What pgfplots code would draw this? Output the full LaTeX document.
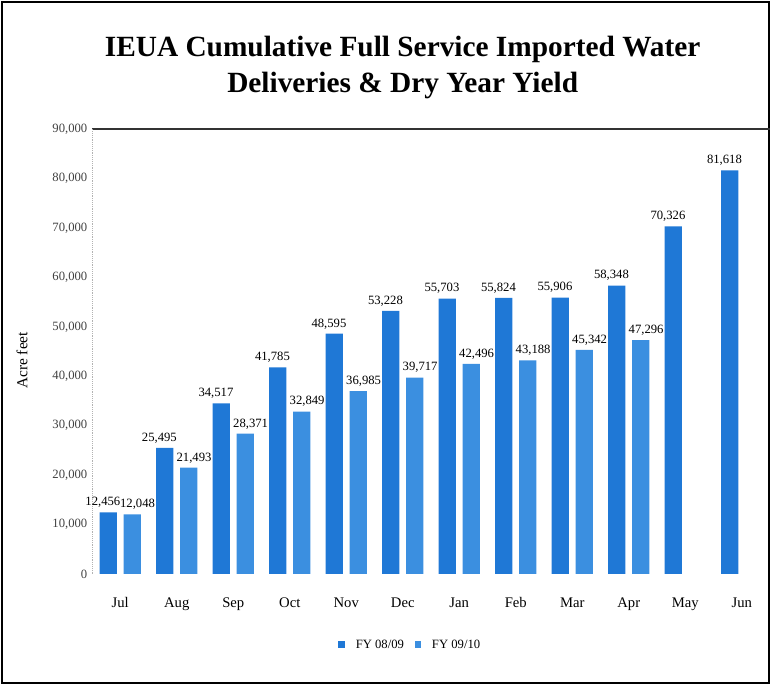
\documentclass[border=0pt]{standalone}
\usepackage{pgfplots}
\pgfplotsset{compat=1.18}
\usepackage{fontspec}
\setmainfont{Liberation Serif}
\definecolor{barA}{HTML}{1F78D6}
\definecolor{barB}{HTML}{3B8FE0}

\pgfplotstableread{
x  fy0809 fy0910
0  12456  12048
1  25495  21493
2  34517  28371
3  41785  32849
4  48595  36985
5  53228  39717
6  55703  42496
7  55824  43188
8  55906  45342
9  58348  47296
10 70326  nan
11 81618  nan
}\deliveries

\begin{document}
\begin{tikzpicture}
\useasboundingbox (0,0) rectangle (578.25pt,513.75pt);
\draw[line width=1.6pt] (1.5pt,1.5pt) rectangle (576.75pt,512.25pt);
\node[font=\bfseries\fontsize{22}{27}\selectfont, align=center] at (302pt,463pt)
  {IEUA Cumulative Full Service Imported Water\\Deliveries \& Dry Year Yield};
\begin{axis}[
    at={(69pt,83.25pt)}, anchor=south west,
    width=508.5pt, height=333.75pt, scale only axis,
    xmin=-0.5, xmax=11.5,
    ymin=0, ymax=90000,
    xtick={0,...,11},
    xticklabels={Jul,Aug,Sep,Oct,Nov,Dec,Jan,Feb,Mar,Apr,May,Jun},
    minor xtick={0.5,1.5,...,10.5},
    xtick style={draw=none},
    minor tick length=3pt,
    minor x tick style={black!60, yshift=-3pt},
    ytick={0,10000,...,90000},
    ytick style={draw=none},
    axis line style={draw=none},
    scaled y ticks=false,
    yticklabel style={black!75, /pgf/number format/fixed, /pgf/number format/1000 sep={,}},
    /pgf/number format/assume math mode=true,
    tick label style={font=\fontsize{9.5}{12}\selectfont},
    xticklabel style={font=\fontsize{11}{13}\selectfont, yshift=-10pt},
    ylabel={Acre feet},
    ylabel style={font=\fontsize{11.5}{13}\selectfont, at={(axis description cs:-0.103,0.48)}, anchor=center},
    ybar=0pt,
    bar width=13pt,
    nodes near coords,
    nodes near coords style={font=\fontsize{9.5}{12}\selectfont, black,
      /pgf/number format/fixed, /pgf/number format/1000 sep={,}},
    legend style={at={(0.47,-0.135)}, anchor=north, draw=none, legend columns=2,
      font=\fontsize{9.5}{11}\selectfont, column sep=6pt},
    legend image code/.code={\fill (0pt,-2.5pt) rectangle (5pt,3pt);},
    clip=false,
]
\draw[black!80, line width=0.8pt] (axis cs:-0.5,90000) -- (axis cs:11.5,90000);
\draw[black!30, densely dotted] (axis cs:-0.5,0) -- (axis cs:-0.5,90000);
\addplot[draw=none, fill=barA, bar shift=-9pt,
  nodes near coords style={xshift=-4pt}]
  table[x=x, y=fy0809] {\deliveries};
\addplot[draw=none, fill=barB, bar shift=9pt,
  nodes near coords style={xshift=4pt}]
  table[x=x, y=fy0910] {\deliveries};
\legend{FY 08/09, FY 09/10}
\end{axis}
\end{tikzpicture}
\end{document}
